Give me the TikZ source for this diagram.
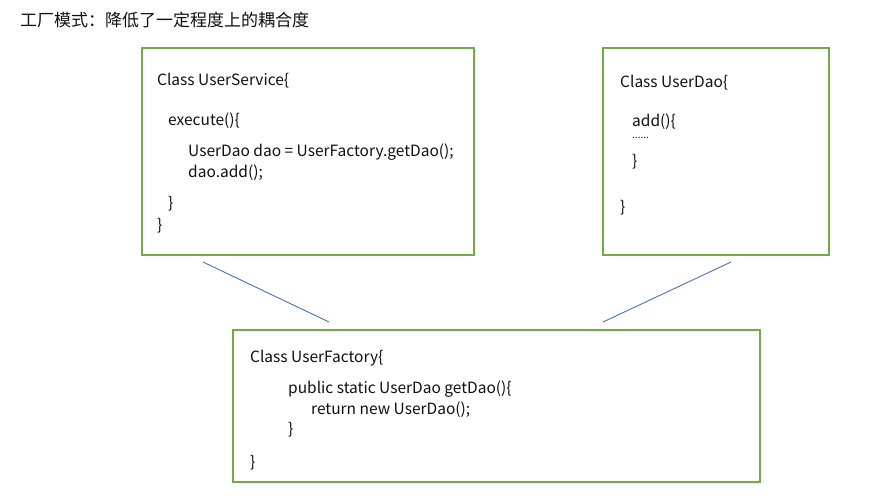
\documentclass[tikz,border=0pt]{standalone}
\usepackage{fontspec}
\setmainfont{Noto Sans CJK SC}
\definecolor{boxgreen}{HTML}{70AD47}
\definecolor{lineblue}{HTML}{4472C4}
\definecolor{txt}{HTML}{111111}
\begin{document}
\begin{tikzpicture}[x=1pt,y=-1pt,
  classbox/.style={draw=boxgreen,line width=1.2pt},
  code/.style={anchor=west,inner sep=0pt,text=txt,font=\fontsize{15.5}{18}\selectfont},
  link/.style={draw=lineblue,line width=0.9pt}]
\useasboundingbox[fill=white] (0,0) rectangle (893,503);
\node[anchor=west,inner sep=0pt,text=txt,font=\fontsize{17}{20}\selectfont] (title) at (20,20) {工厂模式：降低了一定程度上的耦合度};
% boxes
\draw[classbox] (142,48) rectangle (474,255);
\draw[classbox] (603,48) rectangle (829,255);
\draw[classbox] (233,330) rectangle (760,482);
% UserService
\node[code] (s1) at (157,81) {Class UserService\{};
\node[code] (s2) at (168,121) {execute()\{};
\node[code] (s3) at (188,152) {UserDao dao = UserFactory.getDao();};
\node[code] (s4) at (188,173) {dao.add();};
\node[code] (s5) at (168,204) {\}};
\node[code] (s6) at (157,226) {\}};
% UserDao
\node[code] (d1) at (620,83) {Class UserDao\{};
\node[code] (d2) at (632,122) {add()\{};
\node[code,font=\fontsize{10}{11}\selectfont] (d3) at (632,138) {......};
\node[code] (d4) at (632,162) {\}};
\node[code] (d5) at (620,208) {\}};
% UserFactory
\node[code] (f1) at (250,358) {Class UserFactory\{};
\node[code] (f2) at (288,389) {public static UserDao getDao()\{};
\node[code] (f3) at (311,410) {return new UserDao();};
\node[code] (f4) at (288,430) {\}};
\node[code] (f5) at (250,463) {\}};
% connectors
\coordinate (a1) at (203,262);
\coordinate (a2) at (329,322);
\coordinate (b1) at (731,262);
\coordinate (b2) at (603,322);
\draw[link] (a1) -- (a2);
\draw[link] (b1) -- (b2);
\end{tikzpicture}
\end{document}
